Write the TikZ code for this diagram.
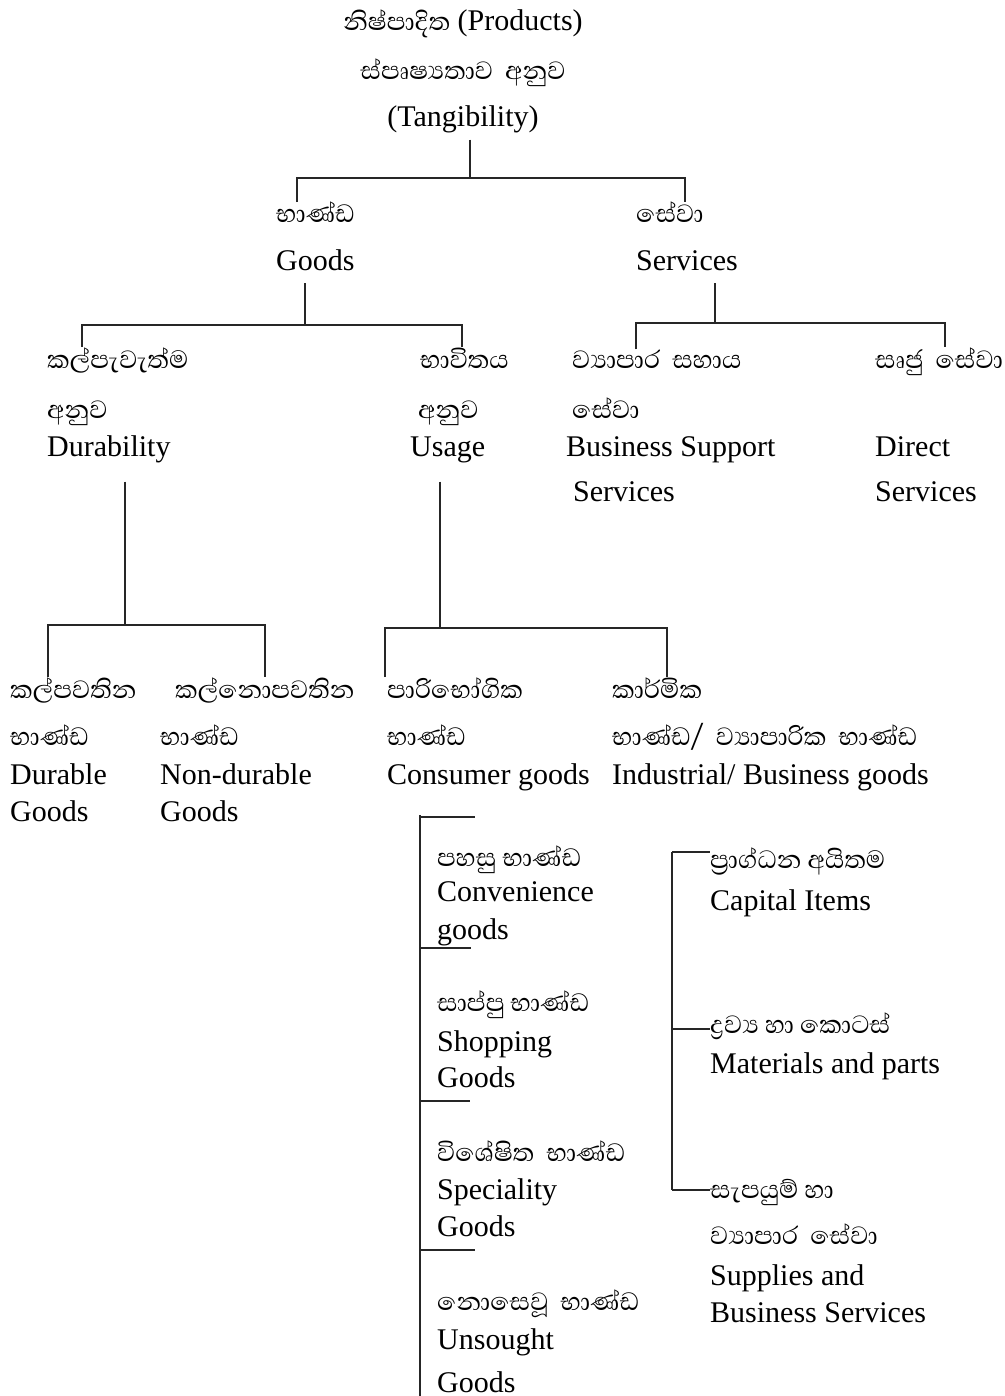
\documentclass[tikz,border=0pt]{standalone}
\usepackage{fontspec}
\setmainfont{Liberation Serif}
\newfontfamily\sinhalafont[Script=Sinhala]{Abhaya Libre}
\usetikzlibrary{positioning}

\newcommand{\sn}[1]{{\sinhalafont\fontsize{32}{37}\selectfont #1}}

\begin{document}
\begin{tikzpicture}[x=1pt,y=-1pt,
    every node/.style={inner sep=0pt,font=\fontsize{30}{37}\selectfont},
    block/.style={align=left,anchor=base west},
    tree/.style={line width=2.7pt,black!85}]
  \useasboundingbox (0,0) rectangle (1004,1396);

  % top of the tree (nodes sit on the baseline of their last line)
  \node[align=center,anchor=base] (title) at (463,127)
    {\sn{නිෂ්පාදිත} (Products)\\[12pt]
     \sn{ස්පෘෂ්^^^^200dයතාව\ \ අනුව}\\[10pt]
     (Tangibility)};

  \node[block] (goods) at (276,271) {\sn{භාණ්ඩ}\\[11pt]Goods};
  \node[block] (serv) at (636,271) {\sn{සේවා}\\[11pt]Services};

  % goods side
  \node[block] (dur) at (47,456)
    {\sn{කල්පැවැත්ම}\\[13pt]\sn{අනුව}\\[1pt]Durability};
  \node[block] (usage) at (410,456)
    {\hspace{10pt}\sn{භාවිතය}\\[13pt]\hspace{8pt}\sn{අනුව}\\[1pt]Usage};

  % services side
  \node[block] (bss) at (566,501)
    {\hspace{6pt}\sn{ව්^^^^200dයාපාර\ \ සහාය}\\[13pt]\hspace{6pt}\sn{සේවා}\\[1pt]Business Support\\[8pt]\hspace{7pt}Services};
  \node[block] (direct) at (875,501)
    {\sn{සෘජු\hspace{12pt}සේවා}\\[51pt]Direct\\[8pt]Services};

  \node[block] (durg) at (10,821)
    {\sn{කල්පවතින}\\[10pt]\sn{භාණ්ඩ}\\[2pt]Durable\\Goods};
  \node[block] (nondur) at (160,821)
    {\hspace{15pt}\sn{කල්නොපවතින}\\[10pt]\sn{භාණ්ඩ}\\[2pt]Non-durable\\Goods};
  \node[block] (cons) at (387,784)
    {\sn{පාරිභෝගික}\\[10pt]\sn{භාණ්ඩ}\\[2pt]Consumer goods};
  \node[block] (ind) at (612,784)
    {\sn{කාර්මික}\\[10pt]\sn{භාණ්ඩ/\ \ ව්^^^^200dයාපාරික\ \ භාණ්ඩ}\\[2pt]Industrial/ Business goods};

  % consumer goods list
  \node[block] (conv) at (437,939)
    {\sn{පහසු\ භාණ්ඩ}\\[-2pt]Convenience\\[1pt]goods};
  \node[block] (shop) at (437,1087)
    {\sn{සාප්පු\ භාණ්ඩ}\\[3pt]Shopping\\[-1pt]Goods};
  \node[block] (spec) at (437,1236)
    {\sn{විශේෂිත\ \ භාණ්ඩ}\\[1pt]Speciality\\Goods};
  \node[block] (unsought) at (437,1392)
    {\sn{නොසෙවූ\ \ භාණ්ඩ}\\[2pt]Unsought\\[6pt]Goods};

  % industrial goods list
  \node[block] (capital) at (710,910)
    {\sn{ප්^^^^200dරාග්ධන\ අයිතම}\\[5pt]Capital Items};
  \node[block] (material) at (710,1073)
    {\sn{ද්^^^^200dරව්^^^^200dය\ හා\ කොටස්}\\[3pt]Materials and parts};
  \node[block] (supply) at (710,1322)
    {\sn{සැපයුම්\ හා}\\[9pt]\sn{ව්^^^^200dයාපාර\ \ සේවා}\\[4pt]Supplies and\\Business Services};

  % connectors
  \coordinate (j0) at (470,178);
  \draw[tree,shorten <=6pt] (j0 |- title.south) -- (j0);
  \draw[tree] ([xshift=21pt]goods.north west) |- (j0) -| ([xshift=49pt]serv.north west);

  \coordinate (j1) at (305,325);
  \draw[tree,shorten <=12pt] (j1 |- goods.south) -- (j1);
  \draw[tree] ([xshift=35pt]dur.north west) |- (j1) -| ([xshift=52pt]usage.north west);

  \coordinate (j2) at (715,323);
  \draw[tree,shorten <=12pt] (j2 |- serv.south) -- (j2);
  \draw[tree] ([xshift=70pt]bss.north west) |- (j2) -| ([xshift=70pt]direct.north west);

  \coordinate (j3) at (125,625);
  \draw[tree,shorten <=19pt] (j3 |- dur.south) -- (j3);
  \draw[tree] ([xshift=38pt]durg.north west) |- (j3) -| ([xshift=105pt]nondur.north west);

  \coordinate (j4) at (440,628);
  \draw[tree,shorten <=19pt] (j4 |- usage.south) -- (j4);
  \draw[tree] ([xshift=-2pt]cons.north west) |- (j4) -| ([xshift=55pt]ind.north west);

  % bracket of the consumer goods
  \coordinate (c0) at (420,815);
  \coordinate (c4) at (420,1396);
  \draw[tree] (c0) -- (c4);
  \draw[tree] (420,817) -- (475,817);
  \draw[tree] (420,948) -- (471,948);
  \draw[tree] (420,1101) -- (470,1101);
  \draw[tree] (420,1250) -- (475,1250);

  % bracket of the industrial goods
  \coordinate (i0) at (672,852);
  \coordinate (i2) at (672,1190);
  \draw[tree] (i0) -- (i2);
  \draw[tree] (i0) -- (capital.west |- i0);
  \draw[tree] (672,1029) -- (material.west |- 672,1029);
  \draw[tree] (i2) -- (supply.west |- i2);
\end{tikzpicture}
\end{document}
